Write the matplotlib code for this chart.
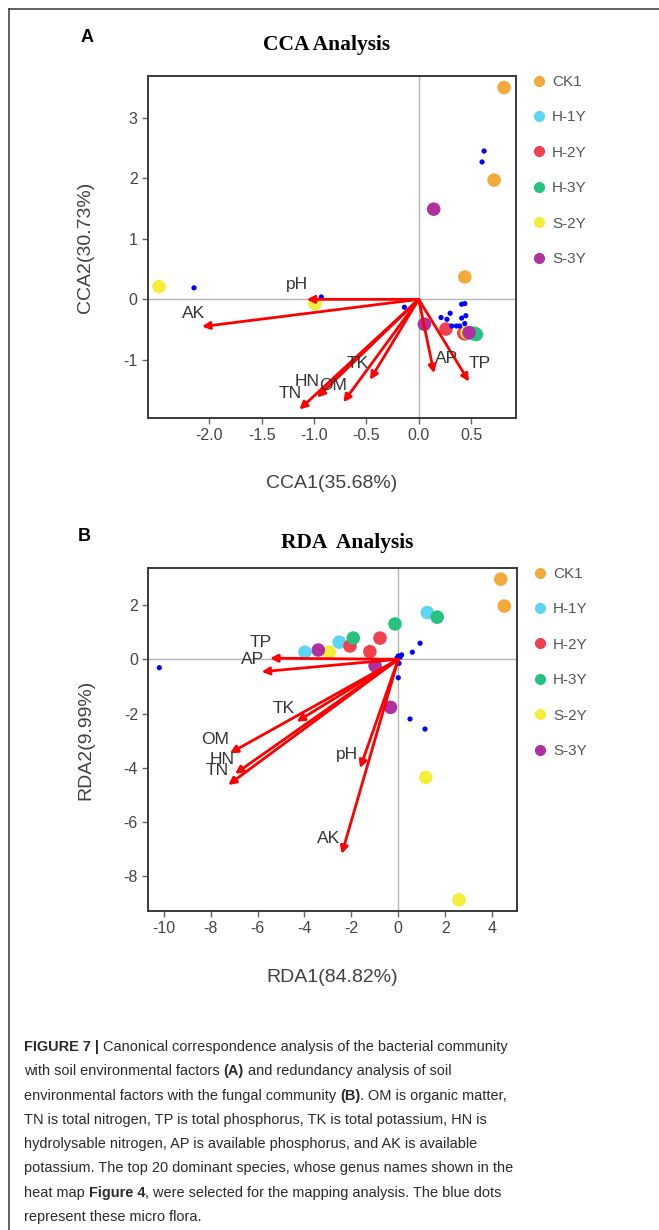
import matplotlib
matplotlib.use("Agg")
import matplotlib.pyplot as plt
from matplotlib.lines import Line2D
import numpy as np

plt.rcParams["font.family"] = ["Liberation Sans", "DejaVu Sans"]
plt.rcParams["axes.unicode_minus"] = False

GROUPS = ["CK1", "H-1Y", "H-2Y", "H-3Y", "S-2Y", "S-3Y"]
GROUP_COLORS = ["#F4AA3B", "#5CD6F4", "#F1414E", "#27C27D", "#F4EE3A", "#B0309E"]

# --- CCA (bacterial community) ---
CCA_SAMPLES = {
    "CK1": ([0.815, 0.72, 0.44], [3.50, 1.97, 0.37]),
    "H-1Y": ([0.50, 0.52, 0.49], [-0.56, -0.57, -0.55]),
    "H-2Y": ([0.26, 0.43, 0.44], [-0.49, -0.56, -0.57]),
    "H-3Y": ([0.54, 0.53, 0.55], [-0.57, -0.56, -0.58]),
    "S-2Y": ([-2.48, -0.99, 0.46], [0.21, -0.07, -0.55]),
    "S-3Y": ([0.143, 0.054, 0.48], [1.49, -0.41, -0.55]),
}
CCA_SPECIES_X = [-2.146, -0.93, -0.137, 0.624, 0.605, 0.213, 0.27, 0.30, 0.315,
                 0.36, 0.39, 0.41, 0.41, 0.44, 0.45, 0.44]
CCA_SPECIES_Y = [0.19, 0.04, -0.13, 2.45, 2.27, -0.30, -0.33, -0.23, -0.44,
                 -0.44, -0.44, -0.31, -0.08, -0.07, -0.27, -0.40]
CCA_FACTORS = ["pH", "AK", "TN", "HN", "OM", "TK", "AP", "TP"]
CCA_FACTOR_X = [-1.07, -2.07, -1.14, -0.97, -0.72, -0.465, 0.146, 0.48]
CCA_FACTOR_Y = [0.0, -0.45, -1.82, -1.62, -1.70, -1.33, -1.22, -1.36]

# --- RDA (fungal community) ---
RDA_SAMPLES = {
    "CK1": ([4.37, 4.52], [2.95, 1.96]),
    "H-1Y": ([1.24, -2.52, -3.98], [1.72, 0.63, 0.26]),
    "H-2Y": ([-0.78, -2.06, -1.21], [0.78, 0.49, 0.28]),
    "H-3Y": ([1.66, -0.14, -1.92], [1.55, 1.30, 0.78]),
    "S-2Y": ([-2.94, 1.17, 2.59], [0.26, -4.35, -8.86]),
    "S-3Y": ([-3.41, -0.99, -0.33], [0.34, -0.24, -1.77]),
}
RDA_SPECIES_X = [-10.19, 0.93, 0.60, 0.14, 0.0, -0.05, 0.03, 0.0, 0.5, 1.14, 0.08]
RDA_SPECIES_Y = [-0.31, 0.59, 0.26, 0.16, 0.12, 0.05, -0.15, -0.68, -2.2, -2.57, 0.08]
RDA_FACTORS = ["TP", "AP", "TK", "OM", "HN", "TN", "pH", "AK"]
RDA_FACTOR_X = [-5.47, -5.83, -4.33, -7.18, -6.96, -7.25, -1.63, -2.41]
RDA_FACTOR_Y = [0.04, -0.46, -2.30, -3.46, -4.22, -4.63, -4.01, -7.17]

# label offsets from the arrow tips (data units)
CCA_LABEL_OFFSETS = {"pH": (-0.095, 0.24), "AK": (-0.08, 0.22), "TN": (-0.09, 0.27),
                     "HN": (-0.10, 0.26), "OM": (-0.095, 0.27), "TK": (-0.115, 0.27),
                     "AP": (0.12, 0.24), "TP": (0.10, 0.30)}
RDA_LABEL_OFFSETS = {"TP": (-0.40, 0.57), "AP": (-0.38, 0.46), "TK": (-0.57, 0.50),
                     "OM": (-0.64, 0.49), "HN": (-0.57, 0.54), "TN": (-0.49, 0.53),
                     "pH": (-0.57, 0.49), "AK": (-0.57, 0.58)}

CAPTION = [
    [("FIGURE 7 |", True), ("Canonical correspondence analysis of the bacterial community", False)],
    [("with soil environmental factors", False), ("(A)", True), ("and redundancy analysis of soil", False)],
    [("environmental factors with the fungal community", False), ("(B)", True),
     (". OM is organic matter,", False, True)],
    [("TN is total nitrogen, TP is total phosphorus, TK is total potassium, HN is", False)],
    [("hydrolysable nitrogen, AP is available phosphorus, and AK is available", False)],
    [("potassium. The top 20 dominant species, whose genus names shown in the", False)],
    [("heat map", False), ("Figure 4", True), (", were selected for the mapping analysis. The blue dots", False, True)],
    [("represent these micro flora.", False)],
]

W, H = 659, 1230
TEXT = "#333333"
TICK = "#444444"


def px_axes(fig, left, top, right, bottom):
    return fig.add_axes([left / W, 1 - bottom / H, (right - left) / W, (bottom - top) / H])


def draw_panel(ax, samples, sx, sy, factors, fx, fy, offsets):
    ax.axhline(0, color="#b5b5b5", lw=1.0, zorder=1)
    ax.axvline(0, color="#b5b5b5", lw=1.0, zorder=1)
    for name, color in zip(GROUPS, GROUP_COLORS):
        x, y = samples[name]
        ax.scatter(x, y, s=95, color=color, edgecolors="none", zorder=3)
    ax.scatter(sx, sy, s=14, color="#0000FF", edgecolors="none", zorder=4)
    for name, x, y in zip(factors, fx, fy):
        ax.annotate("", xy=(x, y), xytext=(0, 0),
                    arrowprops=dict(arrowstyle="-|>", color="#FF0000", lw=2.0,
                                    mutation_scale=11, shrinkA=0, shrinkB=0),
                    zorder=5)
        dx, dy = offsets[name]
        ax.text(x + dx, y + dy, name, fontsize=12.5, color=TEXT, ha="center", va="center", zorder=6)
    for side in ["left", "bottom", "top", "right"]:
        ax.spines[side].set_color("#3a3a3a")
        ax.spines[side].set_linewidth(1.4)
    ax.tick_params(direction="out", length=4, width=1, colors="#666666",
                   labelcolor=TICK, labelsize=11.5)


def add_legend(fig, left_px, top_px):
    handles = [Line2D([], [], marker="o", linestyle="", color=c, markersize=7, label=g)
               for g, c in zip(GROUPS, GROUP_COLORS)]
    fig.legend(handles=handles, loc="upper left", bbox_to_anchor=(left_px / W, 1 - top_px / H),
               frameon=False, fontsize=11, labelcolor="#555555", handlelength=0.8,
               handletextpad=0.45, labelspacing=1.4, borderpad=0, borderaxespad=0)


fig = plt.figure(figsize=(W / 100, H / 100), dpi=100)

# outer frame (left and top edges)
fig.add_artist(Line2D([8.5 / W, 8.5 / W], [0, 1 - 8.5 / H], color="#444444", lw=1.2))
fig.add_artist(Line2D([8.5 / W, 1], [1 - 8.5 / H, 1 - 8.5 / H], color="#444444", lw=1.2))

# panel A
ax1 = px_axes(fig, 148, 76, 516, 418)
draw_panel(ax1, CCA_SAMPLES, CCA_SPECIES_X, CCA_SPECIES_Y, CCA_FACTORS,
           CCA_FACTOR_X, CCA_FACTOR_Y, CCA_LABEL_OFFSETS)
ax1.set_xlim(-2.585, 0.929)
ax1.set_ylim(-1.96, 3.69)
ax1.set_xticks(np.arange(-2.0, 0.51, 0.5))
ax1.set_xticklabels([f"{v:.1f}" for v in np.arange(-2.0, 0.51, 0.5)])
ax1.set_yticks([-1, 0, 1, 2, 3])
ax1.set_xlabel("CCA1(35.68%)", fontsize=14, color="#404040", labelpad=23)
ax1.set_ylabel("CCA2(30.73%)", fontsize=14, color="#404040", labelpad=21)
fig.text(87 / W, 1 - 38 / H, "A", fontsize=13, fontweight="bold", ha="center", va="center")
fig.text(327 / W, 1 - 45 / H, "CCA Analysis", fontsize=15.5, fontweight="bold",
         family=["Liberation Serif"], ha="center", va="center")
add_legend(fig, 533, 75)

# panel B
ax2 = px_axes(fig, 148.3, 568.3, 516.7, 910.7)
draw_panel(ax2, RDA_SAMPLES, RDA_SPECIES_X, RDA_SPECIES_Y, RDA_FACTORS,
           RDA_FACTOR_X, RDA_FACTOR_Y, RDA_LABEL_OFFSETS)
ax2.set_xlim(-10.66, 5.05)
ax2.set_ylim(-9.26, 3.35)
ax2.set_xticks(np.arange(-10, 5, 2))
ax2.set_yticks(np.arange(-8, 3, 2))
ax2.set_xlabel("RDA1(84.82%)", fontsize=14, color="#404040", labelpad=24)
ax2.set_ylabel("RDA2(9.99%)", fontsize=14, color="#404040", labelpad=21)
fig.text(84 / W, 1 - 537 / H, "B", fontsize=13, fontweight="bold", ha="center", va="center")
fig.text(347 / W, 1 - 543 / H, "RDA  Analysis", fontsize=15.5, fontweight="bold",
         family=["Liberation Serif"], ha="center", va="center")
add_legend(fig, 534, 567)

# caption with mixed bold runs
renderer = fig.canvas.get_renderer()
cap_family = ["Liberation Sans"]
cap_size = 10.45


def text_width(s, bold):
    t = fig.text(0, 0, s, fontsize=cap_size, family=cap_family,
                 fontweight="bold" if bold else "normal")
    w = t.get_window_extent(renderer).width
    t.remove()
    return w


space_w = text_width("x x", False) - text_width("xx", False)
y = 1047
for line in CAPTION:
    x = 24.0
    for i, run in enumerate(line):
        s, bold = run[0], run[1]
        glued = len(run) > 2
        if i > 0 and not glued:
            x += space_w
        t = fig.text(x / W, 1 - y / H, s, fontsize=cap_size, family=cap_family,
                     fontweight="bold" if bold else "normal", color="#2a2a2a",
                     ha="left", va="center")
        x += t.get_window_extent(renderer).width
    y += 24.3

fig.savefig("out.png", dpi=100)
